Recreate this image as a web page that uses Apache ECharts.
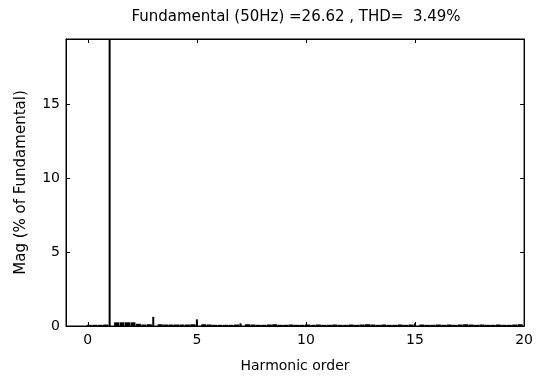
<!DOCTYPE html>
<html>
<head>
<meta charset="utf-8">
<script src="https://cdn.jsdelivr.net/npm/echarts@6/dist/echarts.min.js"></script>
<style>html,body{margin:0;padding:0;background:#fff}#c{width:536px;height:384px}</style>
</head>
<body>
<div id="c"></div>
<script>
// Spectrum background (harmonic order, % of fundamental)
var bandOrders = [0,0.25,0.5,0.75,1.25,1.5,1.75,2,2.25,2.5,2.75,3.25,3.5,3.75,4,4.25,4.5,4.75,5.25,5.5,5.75,6,6.25,6.5,6.75,7.25,7.5,7.75,8,8.25,8.5,8.75,9,9.25,9.5,9.75,10,10.25,10.5,10.75,11,11.25,11.5,11.75,12,12.25,12.5,12.75,13,13.25,13.5,13.75,14,14.25,14.5,14.75,15.25,15.5,15.75,16,16.25,16.5,16.75,17,17.25,17.5,17.75,18,18.25,18.5,18.75,19,19.25,19.5,19.75];
var bandMags   = [0.08,0.08,0.08,0.1,0.25,0.25,0.25,0.25,0.15,0.1,0.12,0.12,0.1,0.1,0.1,0.1,0.1,0.12,0.12,0.1,0.08,0.08,0.08,0.08,0.1,0.12,0.1,0.08,0.08,0.1,0.12,0.08,0.08,0.1,0.08,0.08,0.1,0.08,0.1,0.08,0.08,0.1,0.08,0.08,0.1,0.08,0.1,0.12,0.1,0.08,0.1,0.08,0.08,0.1,0.08,0.1,0.1,0.08,0.08,0.1,0.08,0.1,0.08,0.1,0.12,0.1,0.08,0.1,0.08,0.08,0.1,0.08,0.08,0.1,0.12];
// Harmonic peaks
var peakOrders = [1,3,5,7,15];
var peakMags   = [100,0.62,0.45,0.18,0.18];
var xTicks = [0,5,10,15,20];
var yTicks = [0,5,10,15];
var titleText = 'Fundamental (50Hz) =26.62 , THD=  3.49%';

var font = 'DejaVu Sans, sans-serif';
function pairs(a,b){return a.map(function(v,i){return [v,b[i]];});}
var chart = echarts.init(document.getElementById('c'), null, {renderer:'canvas'});
var tickStyle = {show:true, inside:true, length:4, lineStyle:{color:'#000', width:1}};
var lineStyle = {show:true, onZero:false, lineStyle:{color:'#000', width:1}};
chart.setOption({
  animation:false,
  backgroundColor:'#fff',
  title:{text:titleText, left:291, top:5, textAlign:'center',
    textStyle:{fontFamily:font, fontSize:15, fontWeight:'normal', color:'#000'}},
  grid:{left:66, right:9, top:39, bottom:58, show:true, borderColor:'#000', borderWidth:1, backgroundColor:'transparent'},
  xAxis:[{type:'value', min:-1, max:20, position:'bottom',
      name:'Harmonic order', nameLocation:'middle', nameGap:33,
      nameTextStyle:{fontFamily:font, fontSize:14, color:'#000'},
      axisLine:lineStyle,
      axisTick:Object.assign({customValues:xTicks}, tickStyle),
      axisLabel:{customValues:xTicks, fontFamily:font, fontSize:14, color:'#000', margin:7},
      splitLine:{show:false}},
    {type:'value', min:-1, max:20, position:'top',
      axisLine:lineStyle,
      axisTick:Object.assign({customValues:xTicks}, tickStyle),
      axisLabel:{show:false}, splitLine:{show:false}}],
  yAxis:[{type:'value', min:0, max:19.4, position:'left',
      name:'Mag (% of Fundamental)', nameLocation:'middle', nameGap:37,
      nameTextStyle:{fontFamily:font, fontSize:15, color:'#000'},
      axisLine:lineStyle,
      axisTick:Object.assign({customValues:yTicks}, tickStyle),
      axisLabel:{customValues:yTicks, fontFamily:font, fontSize:14, color:'#000', margin:6},
      splitLine:{show:false}},
    {type:'value', min:0, max:19.4, position:'right',
      axisLine:lineStyle,
      axisTick:Object.assign({customValues:yTicks}, tickStyle),
      axisLabel:{show:false}, splitLine:{show:false}}],
  series:[
    {type:'bar', data:pairs(bandOrders,bandMags), barWidth:5, barGap:'-100%', itemStyle:{color:'#000'}, clip:true, silent:true},
    {type:'bar', data:pairs(peakOrders,peakMags), barWidth:2, barGap:'-100%', itemStyle:{color:'#000'}, clip:true, silent:true}
  ]
});
</script>
</body>
</html>
